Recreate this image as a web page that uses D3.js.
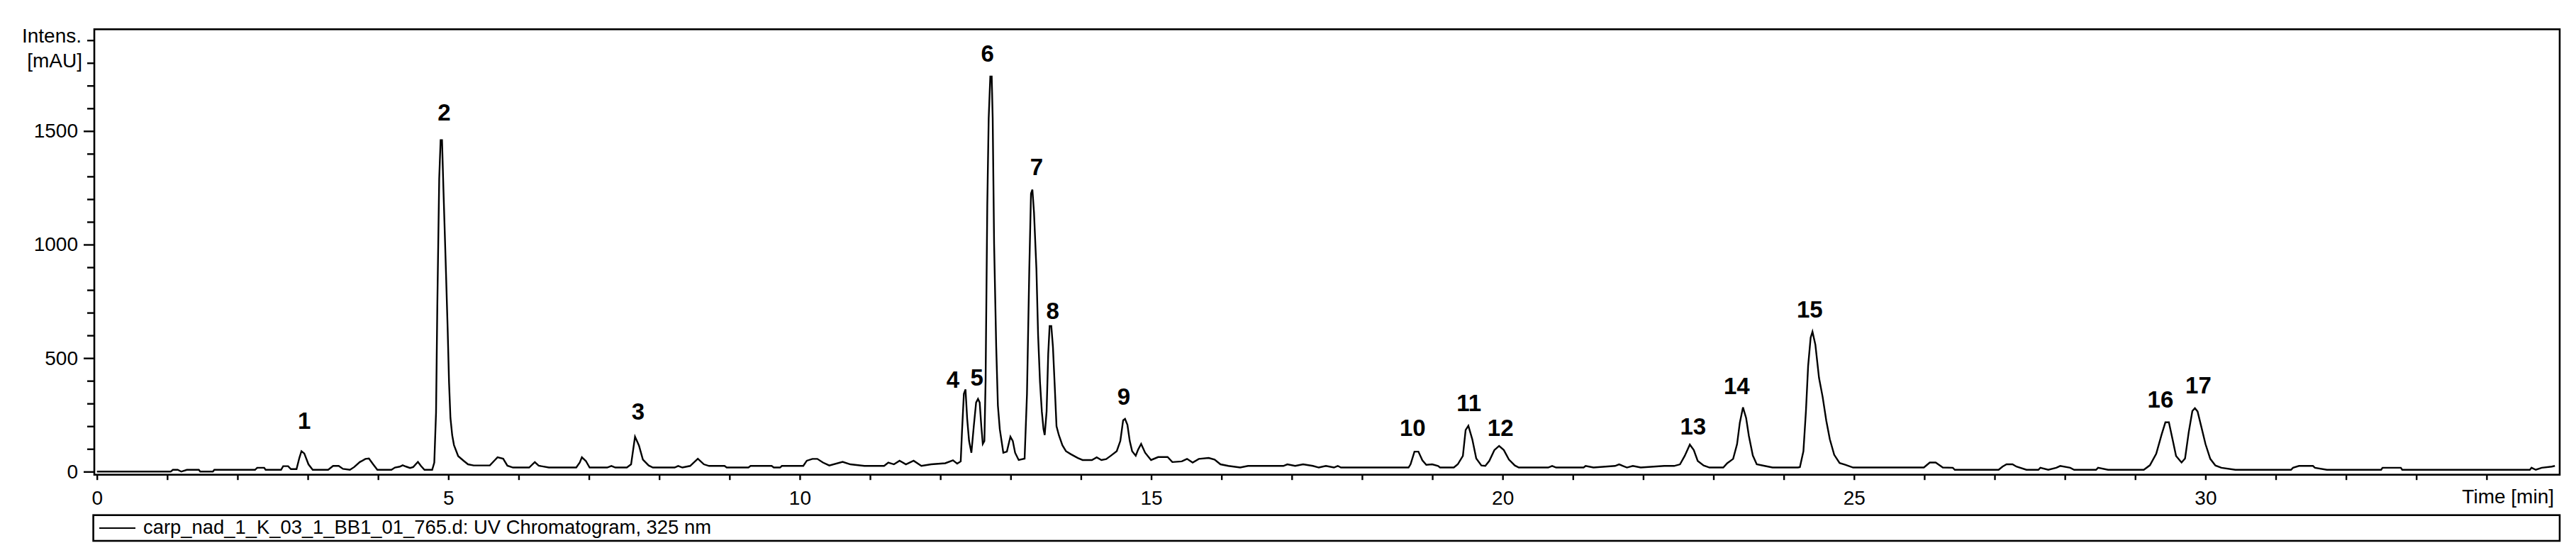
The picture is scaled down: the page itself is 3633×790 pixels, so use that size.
<!DOCTYPE html>
<html>
<head>
<meta charset="utf-8">
<script src="https://cdn.jsdelivr.net/npm/d3@7/dist/d3.min.js"></script>
<style>
  html, body { margin: 0; padding: 0; background: #fff; }
  svg { display: block; }
  text { font-family: "Liberation Sans", Arial, sans-serif; fill: #000; }
</style>
</head>
<body>
<svg id="chart" width="3633" height="790"></svg>
<script>
// ---------------- data ----------------
const times = [
  0.00, 0.50, 1.05, 1.08, 1.15, 1.20, 1.28, 1.45, 1.47, 1.65, 1.67, 2.25, 2.28, 2.38, 2.40, 2.62, 2.65, 2.72, 2.76, 2.84,
  2.88, 2.91, 2.95, 3.01, 3.07, 3.29, 3.36, 3.44, 3.50, 3.60, 3.66, 3.74, 3.82, 3.87, 3.93, 3.99, 4.19, 4.24, 4.31, 4.35,
  4.40, 4.455, 4.50, 4.567, 4.61, 4.66, 4.77, 4.80, 4.825, 4.843, 4.87, 4.89, 4.91, 4.93, 4.96, 4.99, 5.01, 5.03, 5.055, 5.08,
  5.14, 5.22, 5.28, 5.36, 5.59, 5.66, 5.70, 5.78, 5.84, 5.92, 6.15, 6.23, 6.285, 6.43, 6.82, 6.87, 6.90, 6.956, 7.01, 7.26,
  7.32, 7.376, 7.54, 7.60, 7.656, 7.712, 7.768, 7.85, 7.91, 8.22, 8.27, 8.33, 8.44, 8.55, 8.636, 8.71, 8.82, 8.93, 8.96, 9.27,
  9.30, 9.60, 9.63, 9.72, 9.745, 10.05, 10.10, 10.18, 10.25, 10.33, 10.42, 10.61, 10.72, 10.92, 11.20, 11.26, 11.34, 11.42, 11.51, 11.62,
  11.73, 11.87, 12.07, 12.18, 12.24, 12.29, 12.308, 12.335, 12.358, 12.382, 12.409, 12.442, 12.476, 12.509, 12.536, 12.56, 12.583, 12.604, 12.627, 12.644,
  12.668, 12.688, 12.711, 12.731, 12.745, 12.765, 12.795, 12.819, 12.846, 12.896, 12.947, 12.997, 13.031, 13.064, 13.115, 13.199, 13.233, 13.266, 13.29, 13.31,
  13.333, 13.367, 13.391, 13.418, 13.444, 13.468, 13.485, 13.512, 13.535, 13.555, 13.579, 13.602, 13.626, 13.653, 13.686, 13.737, 13.787, 13.855, 13.956, 14.023,
  14.157, 14.225, 14.292, 14.36, 14.426, 14.51, 14.561, 14.601, 14.628, 14.662, 14.695, 14.729, 14.78, 14.813, 14.857, 14.914, 14.998, 15.099, 15.234, 15.301,
  15.435, 15.51, 15.59, 15.678, 15.818, 15.902, 15.986, 16.098, 16.266, 16.378, 16.881, 16.937, 17.049, 17.161, 17.301, 17.385, 17.486, 17.60, 17.655, 17.70,
  18.662, 18.69, 18.746, 18.802, 18.858, 18.914, 18.998, 19.082, 19.11, 19.306, 19.362, 19.435, 19.474, 19.513, 19.569, 19.625, 19.698, 19.754, 19.81, 19.883,
  19.95, 20.017, 20.09, 20.174, 20.23, 20.649, 20.705, 20.761, 21.153, 21.181, 21.293, 21.601, 21.657, 21.713, 21.769, 21.853, 21.965, 22.30, 22.44, 22.524,
  22.591, 22.664, 22.72, 22.776, 22.86, 22.944, 23.14, 23.196, 23.28, 23.336, 23.375, 23.42, 23.465, 23.504, 23.56, 23.616, 23.728, 23.84, 24.203, 24.23,
  24.28, 24.316, 24.347, 24.383, 24.409, 24.45, 24.502, 24.553, 24.605, 24.656, 24.718, 24.795, 24.875, 24.987, 25.994, 26.078, 26.162, 26.263, 26.406, 26.434,
  27.057, 27.113, 27.17, 27.255, 27.311, 27.453, 27.623, 27.651, 27.764, 27.878, 27.934, 28.076, 28.132, 28.444, 28.472, 28.614, 29.123, 29.21, 29.30, 29.376,
  29.43, 29.48, 29.537, 29.582, 29.66, 29.71, 29.762, 29.814, 29.85, 29.888, 29.944, 30.001, 30.069, 30.142, 30.227, 30.426, 31.218, 31.246, 31.331, 31.53,
  31.558, 31.728, 32.50, 32.52, 32.78, 32.80, 34.616, 34.64, 34.70, 34.785, 34.927, 34.972
];
const intensities = [
  0, 0, 0, 8, 8, 0, 8, 8, 0, 0, 8, 8, 17, 17, 8, 8, 24, 24, 11, 11,
  60, 90, 80, 32, 8, 8, 25, 25, 12, 8, 20, 42, 56, 58, 32, 8, 8, 18, 22, 28,
  22, 16, 20, 43, 25, 8, 8, 40, 260, 727, 1290, 1460, 1460, 1244, 943, 631, 392, 236, 160, 117,
  68, 47, 32, 27, 27, 50, 63, 57, 26, 18, 18, 42, 26, 18, 18, 40, 63, 47, 18, 18,
  25, 18, 18, 32, 154, 115, 53, 27, 18, 18, 25, 18, 25, 57, 32, 25, 25, 25, 18, 18,
  25, 25, 18, 18, 25, 25, 48, 56, 56, 40, 27, 43, 32, 25, 25, 40, 32, 48, 32, 48,
  25, 32, 37, 50, 35, 45, 174, 343, 362, 232, 135, 83, 200, 304, 320, 304, 200, 122, 135, 401,
  1173, 1556, 1740, 1740, 1556, 1004, 550, 291, 187, 83, 88, 154, 135, 83, 51, 57, 343, 894, 1225, 1242,
  1140, 894, 602, 395, 265, 187, 161, 265, 518, 641, 641, 550, 389, 200, 161, 116, 90, 77, 60, 51,
  51, 63, 51, 55, 70, 90, 135, 226, 232, 206, 135, 90, 70, 96, 122, 83, 51, 64, 64, 42,
  45, 56, 40, 56, 60, 53, 32, 25, 18, 25, 25, 32, 25, 32, 25, 18, 25, 18, 25, 18,
  18, 32, 88, 88, 50, 30, 32, 25, 18, 18, 32, 69, 183, 202, 142, 58, 27, 25, 47, 95,
  113, 95, 53, 27, 18, 18, 25, 18, 18, 25, 18, 25, 32, 25, 18, 25, 18, 25, 25, 32,
  69, 119, 95, 47, 27, 18, 18, 37, 56, 121, 215, 283, 236, 157, 71, 32, 25, 18, 18, 20,
  90, 267, 465, 590, 616, 559, 413, 330, 225, 142, 74, 38, 30, 18, 18, 40, 40, 18, 17, 8,
  8, 22, 32, 32, 22, 8, 8, 17, 8, 17, 25, 17, 8, 8, 17, 8, 8, 28, 79, 163,
  217, 217, 135, 69, 40, 58, 173, 267, 279, 265, 194, 121, 56, 27, 17, 8, 8, 17, 25, 25,
  17, 8, 8, 17, 17, 8, 8, 17, 8, 17, 22, 25
];

const peakNames = ["1","2","3","4","5","6","7","8","9","10","11","12","13","14","15","16","17"];
const peakLabelTimes = [2.95, 4.94, 7.70, 12.18, 12.52, 12.67, 13.37, 13.60, 14.61, 18.72, 19.52, 19.97, 22.71, 23.33, 24.37, 29.36, 29.90];
const peakLabelIntensities = [189, 1547, 230, 369, 380, 1806, 1306, 671, 293, 157, 267, 157, 163, 340, 679, 283, 343];

const yMajorTicks = [0, 500, 1000, 1500];
const yMinorTicks = d3.range(0, 2000, 100);
const xLabelTicks = [0, 5, 10, 15, 20, 25, 30];
const xMinorTicks = d3.range(0, 35, 1);

const yAxisTitle = ["Intens.", "[mAU]"];
const xAxisTitle = "Time [min]";
const legendText = "carp_nad_1_K_03_1_BB1_01_765.d: UV Chromatogram, 325 nm";

// ---------------- layout ----------------
const frame = { left: 133, top: 41.3, right: 3610, bottom: 669.7 };
const svg = d3.select("#chart");

const x = d3.scaleLinear().domain([0, 35]).range([136.7, 3606]);
const y = d3.scaleLinear().domain([0, 1900]).range([665.3, 56.7]);

// frame
svg.append("rect")
  .attr("x", frame.left).attr("y", frame.top)
  .attr("width", frame.right - frame.left).attr("height", frame.bottom - frame.top)
  .attr("fill", "none").attr("stroke", "#000").attr("stroke-width", 2.6);

// y axis minor ticks
svg.append("g")
  .attr("transform", `translate(${frame.left},0)`)
  .call(d3.axisLeft(y).tickValues(yMinorTicks.filter(v => !yMajorTicks.includes(v))).tickSize(10).tickFormat(""))
  .call(g => g.select(".domain").remove())
  .call(g => g.selectAll("line").attr("stroke-width", 2.4));

// y axis major ticks with labels
svg.append("g")
  .attr("transform", `translate(${frame.left},0)`)
  .call(d3.axisLeft(y).tickValues(yMajorTicks).tickSize(15).tickPadding(8).tickFormat(d3.format("d")))
  .call(g => g.select(".domain").remove())
  .call(g => g.selectAll("line").attr("stroke-width", 2.4))
  .call(g => g.selectAll("text").attr("font-size", 28).attr("font-family", "Liberation Sans, Arial, sans-serif").attr("fill", "#000"));

// x axis ticks
svg.append("g")
  .attr("transform", `translate(0,${frame.bottom})`)
  .call(d3.axisBottom(x).tickValues(xMinorTicks).tickSize(7.5).tickPadding(15)
        .tickFormat(d => xLabelTicks.includes(d) ? String(d) : ""))
  .call(g => g.select(".domain").remove())
  .call(g => g.selectAll("line").attr("stroke-width", 2.4))
  .call(g => g.selectAll("text").attr("font-size", 28).attr("font-family", "Liberation Sans, Arial, sans-serif").attr("fill", "#000"));

// axis titles
svg.append("text").attr("x", 115).attr("y", 60).attr("text-anchor", "end")
  .attr("font-size", 28).text(yAxisTitle[0]);
svg.append("text").attr("x", 116).attr("y", 95).attr("text-anchor", "end")
  .attr("font-size", 28).text(yAxisTitle[1]);
svg.append("text").attr("x", 3602).attr("y", 710).attr("text-anchor", "end")
  .attr("font-size", 28).text(xAxisTitle);

// chromatogram trace
const pts = times.map((t, i) => [t, intensities[i]]);
const line = d3.line().x(d => x(d[0])).y(d => y(d[1])).curve(d3.curveLinear);
svg.append("path").datum(pts)
  .attr("d", line)
  .attr("fill", "none").attr("stroke", "#000").attr("stroke-width", 2.4)
  .attr("stroke-linejoin", "miter");

// peak labels
svg.append("g").selectAll("text")
  .data(peakNames)
  .join("text")
  .attr("x", (d, i) => x(peakLabelTimes[i]))
  .attr("y", (d, i) => y(peakLabelIntensities[i]))
  .attr("text-anchor", "middle")
  .attr("font-size", 33).attr("font-weight", "bold")
  .text(d => d);

// legend
const legend = { left: 131.6, top: 726.7, right: 3610, bottom: 763 };
svg.append("rect")
  .attr("x", legend.left).attr("y", legend.top)
  .attr("width", legend.right - legend.left).attr("height", legend.bottom - legend.top)
  .attr("fill", "#fff").attr("stroke", "#000").attr("stroke-width", 2.6);
svg.append("line")
  .attr("x1", 140).attr("x2", 191).attr("y1", 745).attr("y2", 745)
  .attr("stroke", "#000").attr("stroke-width", 2.2);
svg.append("text").attr("x", 202).attr("y", 753)
  .attr("font-size", 27.4).text(legendText);
</script>
</body>
</html>
